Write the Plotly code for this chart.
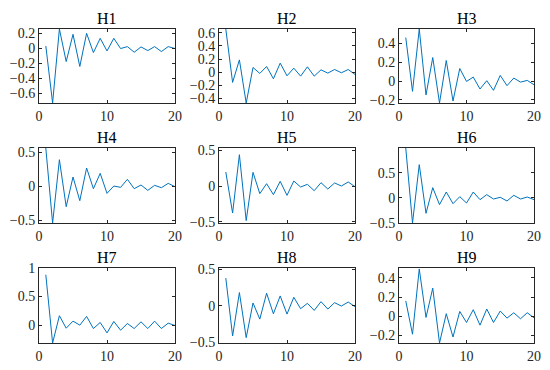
import plotly.graph_objects as go

x_vals = list(range(1, 21))
titles = ["H1", "H2", "H3", "H4", "H5", "H6", "H7", "H8", "H9"]

h1 = [0.031, -0.733, 0.258, -0.178, 0.187, -0.244, 0.200, -0.058, 0.133, -0.036,
      0.133, -0.004, 0.022, -0.053, 0.018, -0.031, 0.022, -0.044, 0.022, -0.004]
h2 = [0.658, -0.157, 0.187, -0.471, 0.071, -0.020, 0.086, -0.101, 0.137, -0.056,
      0.061, -0.061, 0.081, -0.061, 0.035, -0.015, 0.040, -0.010, 0.040, -0.035]
h3 = [0.460, -0.109, 0.551, -0.147, 0.249, -0.232, 0.218, -0.211, 0.133, -0.004,
      0.042, -0.084, 0.004, -0.098, 0.060, -0.049, 0.032, -0.011, 0.007, -0.039]
h4 = [0.559, -0.544, 0.387, -0.304, 0.132, -0.216, 0.265, -0.039, 0.186, -0.108,
      0.000, -0.020, 0.098, -0.039, 0.015, -0.064, 0.010, -0.025, 0.039, -0.010]
h5 = [0.194, -0.375, 0.435, -0.481, 0.190, -0.106, 0.032, -0.120, 0.065, -0.130,
      0.069, -0.014, 0.023, -0.065, 0.046, -0.042, 0.042, 0.000, 0.056, -0.010]
h6 = [0.993, -0.507, 0.660, -0.313, 0.200, -0.140, 0.113, -0.120, 0.020, -0.107,
      0.113, -0.040, 0.060, -0.027, 0.007, -0.067, 0.047, -0.027, 0.013, -0.040]
h7 = [0.882, -0.312, 0.165, -0.053, 0.071, 0.000, 0.153, -0.059, 0.047, -0.135,
      0.065, -0.088, 0.029, -0.059, 0.059, -0.059, 0.071, -0.059, 0.035, -0.006]
h8 = [0.376, -0.413, 0.179, -0.436, 0.037, -0.183, 0.170, -0.110, 0.133, -0.115,
      0.115, -0.041, 0.032, -0.064, 0.055, -0.046, 0.041, -0.005, 0.050, -0.014]
h9 = [0.159, -0.190, 0.494, -0.014, 0.293, -0.282, 0.025, -0.219, 0.049, -0.067,
      0.067, -0.095, 0.074, -0.067, 0.053, -0.021, 0.035, -0.028, 0.035, -0.018]
series = [h1, h2, h3, h4, h5, h6, h7, h8, h9]

y_ranges = [[-0.733, 0.258], [-0.471, 0.658], [-0.232, 0.551],
            [-0.544, 0.559], [-0.514, 0.528], [-0.507, 0.993],
            [-0.312, 1.0], [-0.509, 0.514], [-0.282, 0.504]]
y_dticks = [0.2, 0.2, 0.2, 0.5, 0.5, 0.5, 0.5, 0.5, 0.2]
x_ticks = [0, 10, 20]

W, H = 550, 370
col_px = [(39, 175), (219, 355), (399, 534)]
row_px = [(29, 103), (148, 223), (268, 343)]

FONT = "Liberation Serif, Times New Roman, serif"
AX = "#262626"

fig = go.Figure()
layout = dict(width=W, height=H, margin=dict(l=0, r=0, t=0, b=0, autoexpand=False),
              paper_bgcolor="white", plot_bgcolor="white", showlegend=False,
              font=dict(family=FONT, size=14, color=AX))
annotations = []
for i in range(9):
    r, c = divmod(i, 3)
    n = "" if i == 0 else str(i + 1)
    xd = [col_px[c][0] / W, col_px[c][1] / W]
    yd = [1 - row_px[r][1] / H, 1 - row_px[r][0] / H]
    fig.add_trace(go.Scatter(x=x_vals, y=series[i], mode="lines",
                             line=dict(color="#0072BD", width=1),
                             xaxis="x" + n, yaxis="y" + n, cliponaxis=True))
    common = dict(showline=True, linecolor=AX, linewidth=1, mirror="ticks",
                  ticks="inside", ticklen=3, tickcolor=AX, tickwidth=1,
                  showgrid=False, zeroline=False, automargin=False,
                  tickfont=dict(family=FONT, size=14, color=AX))
    layout["xaxis" + n] = dict(domain=xd, anchor="y" + n, range=[0, 20],
                               tickvals=x_ticks, **common)
    layout["yaxis" + n] = dict(domain=yd, anchor="x" + n, range=y_ranges[i],
                               dtick=y_dticks[i], tick0=0, **common)
    annotations.append(dict(text=titles[i], x=(xd[0] + xd[1]) / 2, y=yd[1],
                            xref="paper", yref="paper", xanchor="center",
                            yanchor="bottom", yshift=0, showarrow=False,
                            font=dict(family=FONT, size=16, color="black")))
layout["annotations"] = annotations
fig.update_layout(**layout)
fig.write_html("out.html", config={"displayModeBar": False},
               post_script="document.body.style.margin='0';")
